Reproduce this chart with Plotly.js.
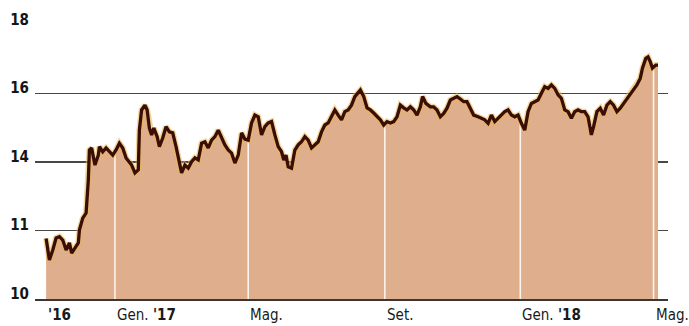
<!DOCTYPE html>
<html>
<head>
<meta charset="utf-8">
<script src="https://cdn.plot.ly/plotly-3.0.1.min.js"></script>
<style>html,body{margin:0;padding:0;background:#fff;}#chart{width:689px;height:326px;}</style>
</head>
<body>
<div id="chart"></div>
<script>
// Dates of the series
const dates = [
'2016-10-31','2016-11-03','2016-11-06','2016-11-09','2016-11-12','2016-11-15','2016-11-18','2016-11-21','2016-11-23','2016-11-26','2016-11-29','2016-11-30','2016-12-03','2016-12-06','2016-12-08','2016-12-09','2016-12-11','2016-12-14','2016-12-17','2016-12-18','2016-12-21','2016-12-24','2016-12-27','2016-12-30',
'2017-01-02','2017-01-05','2017-01-08','2017-01-11','2017-01-16','2017-01-19','2017-01-22','2017-01-23','2017-01-25','2017-01-28','2017-01-30',
'2017-02-01','2017-02-03','2017-02-05','2017-02-08','2017-02-10','2017-02-13','2017-02-16','2017-02-19','2017-02-22','2017-02-25','2017-02-28',
'2017-03-02','2017-03-05','2017-03-08','2017-03-11','2017-03-14','2017-03-17','2017-03-20','2017-03-23','2017-03-26','2017-03-29',
'2017-04-01','2017-04-04','2017-04-07','2017-04-10','2017-04-13','2017-04-16','2017-04-19','2017-04-22','2017-04-25','2017-04-28',
'2017-05-01','2017-05-04','2017-05-07','2017-05-10','2017-05-13','2017-05-16','2017-05-19','2017-05-22','2017-05-25','2017-05-28','2017-05-31',
'2017-06-02','2017-06-04','2017-06-06','2017-06-09','2017-06-12','2017-06-15','2017-06-18','2017-06-21','2017-06-24','2017-06-27','2017-06-30',
'2017-07-03','2017-07-06','2017-07-09','2017-07-12','2017-07-15','2017-07-18','2017-07-21','2017-07-24','2017-07-27','2017-07-30',
'2017-08-02','2017-08-05','2017-08-10','2017-08-13','2017-08-16','2017-08-19','2017-08-22','2017-08-25','2017-08-28','2017-08-31',
'2017-09-03','2017-09-06','2017-09-09','2017-09-12','2017-09-15','2017-09-18','2017-09-21','2017-09-24','2017-09-27','2017-09-30',
'2017-10-03','2017-10-05','2017-10-08','2017-10-12','2017-10-15','2017-10-18','2017-10-21','2017-10-24','2017-10-27','2017-10-30',
'2017-11-02','2017-11-05','2017-11-08','2017-11-11','2017-11-14','2017-11-17','2017-11-20','2017-11-24','2017-11-27','2017-11-30',
'2017-12-03','2017-12-06','2017-12-09','2017-12-12','2017-12-15','2017-12-18','2017-12-21','2017-12-24','2017-12-27','2017-12-30',
'2018-01-02','2018-01-05','2018-01-08','2018-01-11','2018-01-14','2018-01-17','2018-01-20','2018-01-23','2018-01-26','2018-01-29',
'2018-02-01','2018-02-04','2018-02-07','2018-02-10','2018-02-13','2018-02-16','2018-02-19','2018-02-22','2018-02-25','2018-02-28',
'2018-03-03','2018-03-06','2018-03-08','2018-03-11','2018-03-14','2018-03-17','2018-03-20','2018-03-23','2018-03-26','2018-03-29',
'2018-04-01','2018-04-04','2018-04-07','2018-04-10','2018-04-13','2018-04-16','2018-04-19','2018-04-21','2018-04-24','2018-04-26','2018-04-28','2018-04-30',
'2018-05-03','2018-05-05'
];
// Values in the chart's own (printed) y scale
const values = [
11.77,11.14,11.43,11.78,11.82,11.72,11.43,11.64,11.34,11.49,11.64,12.01,12.36,12.51,13.47,14.35,14.41,13.91,14.20,14.45,14.30,14.41,14.30,14.20,
14.35,14.55,14.41,14.12,13.91,13.68,13.77,14.93,15.52,15.66,15.52,
14.99,14.79,14.99,14.74,14.45,14.70,15.03,14.88,14.85,14.45,13.91,
13.68,13.91,13.82,14.01,14.12,14.06,14.55,14.59,14.41,14.64,
14.74,14.93,14.70,14.50,14.35,14.26,13.97,14.20,14.85,14.67,
14.64,15.14,15.37,15.32,14.79,15.03,15.14,15.18,14.79,14.45,14.30,
14.06,14.20,13.86,13.82,14.35,14.50,14.59,14.74,14.64,14.41,14.50,
14.59,14.88,15.08,15.14,15.32,15.52,15.37,15.23,15.47,15.52,
15.66,15.91,16.10,15.91,15.58,15.52,15.43,15.32,15.23,15.08,
15.18,15.14,15.18,15.32,15.66,15.58,15.52,15.61,15.52,15.37,
15.61,15.91,15.71,15.61,15.61,15.52,15.32,15.42,15.57,15.81,
15.86,15.91,15.84,15.76,15.76,15.57,15.37,15.32,15.28,15.23,
15.13,15.37,15.18,15.28,15.37,15.47,15.52,15.37,15.32,15.37,
15.13,14.93,15.47,15.71,15.76,15.81,16.01,16.20,16.15,16.25,
16.15,15.96,15.86,15.52,15.47,15.28,15.47,15.52,15.47,15.47,
15.32,14.79,15.03,15.47,15.57,15.37,15.66,15.76,15.66,15.47,
15.57,15.71,15.86,16.01,16.15,16.25,16.44,16.74,17.03,17.07,16.93,16.74,
16.83,16.83
];
// Axis labels
const yTickVals = [10, 12, 14, 16, 18];
const yTickText = ['10', '11', '14', '16', '18'];
const xLabelDates = ['2016-10-31', '2017-01-01', '2017-05-01', '2017-09-01', '2018-01-01', '2018-05-01'];
const xLabelText = ["<b>'16</b>", "Gen. <b>'17</b>", "Mag.", "Set.", "Gen. <b>'18</b>", "Mag."];
const monthLines = ['2017-01-01', '2017-05-01', '2017-09-01', '2018-01-01', '2018-05-01'];

const FONT = "'DejaVu Sans Condensed', 'Liberation Sans Narrow', 'DejaVu Sans', sans-serif";

// white separators: from the base up to the series value nearest each month start
const sepX = [], sepY = [];
monthLines.forEach(function (d) {
  const t = new Date(d).getTime();
  let best = 0, bd = Infinity;
  dates.forEach(function (dd, i) {
    const diff = Math.abs(new Date(dd).getTime() - t);
    if (diff < bd) { bd = diff; best = i; }
  });
  sepX.push(d, d, null);
  sepY.push(10, values[best], null);
});

const traces = [
  { x: dates, y: values, type: 'scatter', mode: 'lines', fill: 'tozeroy',
    fillcolor: '#dfae8c', line: { width: 0, color: '#dfae8c' }, hoverinfo: 'skip' },
  { x: sepX, y: sepY, type: 'scatter', mode: 'lines',
    line: { color: '#fbf4ec', width: 1.6 }, hoverinfo: 'skip' },
  { x: dates, y: values, type: 'scatter', mode: 'lines',
    line: { color: '#e9b84e', width: 6 }, opacity: 0.55, hoverinfo: 'skip' },
  { x: dates, y: values, type: 'scatter', mode: 'lines',
    line: { color: '#3a0e07', width: 3.3 } }
];

const annotations = xLabelDates.map(function (d, i) {
  return {
    x: d, xref: 'x', y: 0, yref: 'paper', yanchor: 'top', xanchor: 'left',
    yshift: -5, xshift: 0,
    text: xLabelText[i], showarrow: false,
    font: { family: FONT, size: 15, color: '#1a1a1a' }
  };
});

const layout = {
  width: 689, height: 326,
  margin: { l: 35, r: 21, t: 25, b: 27, pad: 0 },
  paper_bgcolor: '#ffffff', plot_bgcolor: '#ffffff',
  showlegend: false,
  xaxis: {
    type: 'date', range: ['2016-10-21', '2018-05-14'],
    showgrid: false, showticklabels: false, ticks: '', zeroline: false,
    showline: true, linecolor: '#3b3533', linewidth: 2
  },
  yaxis: {
    range: [10, 18], tickvals: yTickVals, ticktext: yTickText.map(function (t) { return '<b>' + t + '</b>'; }),
    showgrid: true, gridcolor: '#4a4644', gridwidth: 1.3, zeroline: false,
    ticks: '', showline: false, ticklabelposition: 'outside top', ticklabelstandoff: 5,
    ticklabelshift: 5,
    tickfont: { family: FONT, size: 15, color: '#151515' }
  },
  annotations: annotations
};

Plotly.newPlot('chart', traces, layout, { displayModeBar: false, staticPlot: true });
</script>
</body>
</html>
